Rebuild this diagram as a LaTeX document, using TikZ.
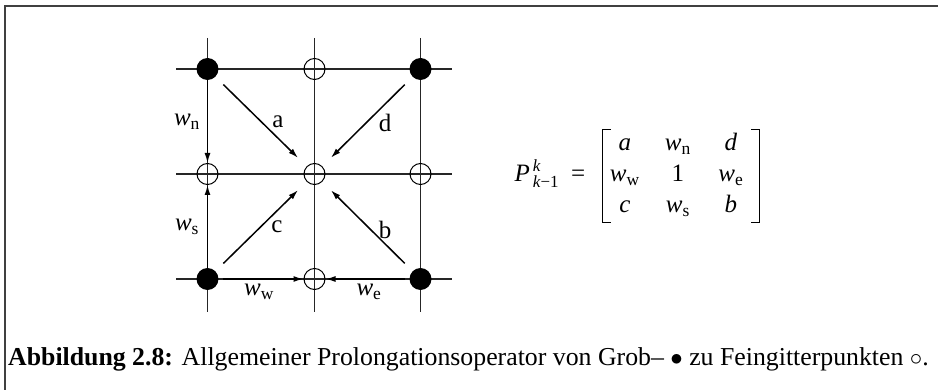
\documentclass[tikz,border=0pt]{standalone}
\usepackage{fontspec}
\setmainfont{Liberation Serif}
\usetikzlibrary{arrows.meta, calc, matrix}

\newcommand{\wsub}[1]{\textit{w}\textsubscript{#1}}
\newcommand{\idxfont}{\fontsize{17}{20}\selectfont}

\begin{document}
\begin{tikzpicture}[
    x=1pt, y=-1pt,
    >=Latex,
    font=\fontsize{25}{29}\selectfont,
    gridline/.style={line width=1.1pt, black!85},
    coarse/.style={circle, fill=black, minimum size=22pt, inner sep=0pt},
    fine/.style={circle, draw, line width=1pt, minimum size=21pt, inner sep=0pt},
    flow/.style={-{Latex[length=10pt, width=6pt]}, line width=1.5pt},
    diag/.style={flow, shorten <=11pt, shorten >=12pt},
    lbl/.style={inner sep=0pt},
    bracket/.style={line width=1.2pt},
    entry/.style={text height=17pt, text depth=6pt,
                  minimum width=50pt, inner sep=0pt, align=center}
]
\useasboundingbox (0,0) rectangle (938,390);

% Frame of the figure
\draw[line width=1.2pt, black!75] (5,390) -- (5,6) -- (938,6);

% Grid lines
\foreach \gy in {69,174,279} \draw[gridline] (176,\gy) -- (452,\gy);
\foreach \gx in {207.5,314.5,420.5} \draw[gridline] (\gx,38) -- (\gx,312);

% Coarse and fine grid points
\node[coarse] (cNW) at (207.5,69)  {};
\node[fine]   (fN)  at (314.5,69)  {};
\node[coarse] (cNE) at (420.5,69)  {};
\node[fine]   (fW)  at (207.5,174) {};
\node[fine]   (fC)  at (314.5,174) {};
\node[fine]   (fE)  at (420.5,174) {};
\node[coarse] (cSW) at (207.5,279) {};
\node[fine]   (fS)  at (314.5,279) {};
\node[coarse] (cSE) at (420.5,279) {};

% Prolongation weights
\draw[diag] (cNW) -- (fC);
\draw[diag] (cNE) -- (fC);
\draw[diag] (cSW) -- (fC);
\draw[diag] (cSE) -- (fC);
\draw[flow] (cNW) -- (fW);
\draw[flow] (cSW) -- (fW);
\draw[flow, shorten <=4pt] (cSW) -- (fS);
\draw[flow, shorten <=4pt] (cSE) -- (fS);

% Weight labels
\node[lbl] (lwn) at (187,122) {\wsub{n}};
\node[lbl] (la)  at (278,122) {a};
\node[lbl] (ld)  at (385,123) {d};
\node[lbl] (lws) at (187,227) {\wsub{s}};
\node[lbl] (lc)  at (277,227) {c};
\node[lbl] (lb)  at (385,230) {b};
\node[lbl] (lww) at (259,292) {\wsub{w}};
\node[lbl] (lwe) at (369,292) {\wsub{e}};

% Operator matrix
\matrix (pmat) [matrix of nodes, nodes={entry}, column sep=3pt, row sep=8pt,
                inner sep=0pt] at (681,176) {
  \textit{a}    & \wsub{n} & \textit{d} \\
  \wsub{w}      & 1        & \wsub{e}   \\
  \textit{c}    & \wsub{s} & \textit{b} \\
};
\draw[bracket] ([xshift=8pt,yshift=4pt]pmat.north west) -- ([yshift=4pt]pmat.north west)
  -- ([yshift=-4pt]pmat.south west) -- ([xshift=8pt,yshift=-4pt]pmat.south west);
\draw[bracket] ([xshift=-8pt,yshift=4pt]pmat.north east) -- ([yshift=4pt]pmat.north east)
  -- ([yshift=-4pt]pmat.south east) -- ([xshift=-8pt,yshift=-4pt]pmat.south east);
\node[anchor=base east] (plbl) at ([xshift=-14pt]pmat.west |- pmat-2-1.base)
  {\textit{P}\makebox[0pt][l]{\raisebox{10pt}{\idxfont\,\textit{k}}}%
   \raisebox{-6pt}{\idxfont\,\textit{k}−1}\ \ =};

% Caption
\node[anchor=base west, inner sep=0pt, font=\fontsize{25.8}{30}\selectfont] (cap) at (8,366)
  {\textbf{Abbildung 2.8:} Allgemeiner Prolongationsoperator von Grob-- $\bullet$ zu Feingitterpunkten $\circ$.};
\end{tikzpicture}
\end{document}
